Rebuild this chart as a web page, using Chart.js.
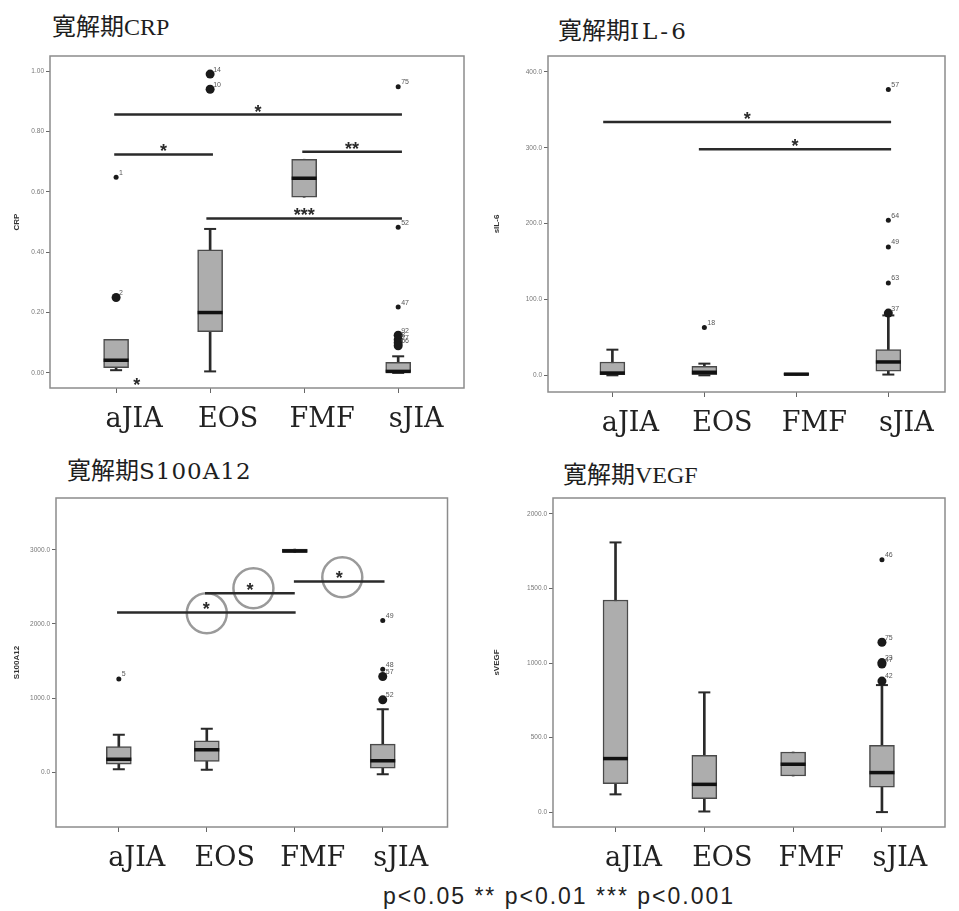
<!DOCTYPE html>
<html>
<head>
<meta charset="utf-8">
<script src="https://cdn.jsdelivr.net/npm/chart.js@4.4.0/dist/chart.umd.min.js"></script>
<style>
  body { margin: 0; background: #fff; width: 959px; height: 911px; overflow: hidden; position: relative; }
  .panel { position: absolute; }
  .title { position: absolute; font-family: "Liberation Serif", "Noto Sans CJK JP", serif; font-size: 24px; color: #1e1e1e; white-space: nowrap; line-height: 1; }
  .wide { font-family: "DejaVu Serif", serif; font-size: 23px; letter-spacing: 1px; }
  #foot { position: absolute; left: 383px; top: 885px; font-family: "Liberation Sans", Arial, sans-serif; font-size: 23px; letter-spacing: 2px; color: #222; white-space: nowrap; line-height: 1; }
</style>
</head>
<body>
<div class="title" style="left:52px;top:15px">寛解期CRP</div>
<div class="title" style="left:558px;top:19px">寛解期<span class="wide" style="letter-spacing:3px">IL-6</span></div>
<div class="title" style="left:67px;top:459px">寛解期<span class="wide">S100A12</span></div>
<div class="title" style="left:563px;top:463px">寛解期VEGF</div>

<div class="panel" style="left:0;top:40px"><canvas id="crp" width="480" height="403"></canvas></div>
<div class="panel" style="left:480px;top:40px"><canvas id="il6" width="481" height="407"></canvas></div>
<div class="panel" style="left:0;top:470px"><canvas id="s100" width="470" height="412"></canvas></div>
<div class="panel" style="left:480px;top:470px"><canvas id="vegf" width="481" height="412"></canvas></div>

<div id="foot">p&lt;0.05 ** p&lt;0.01 *** p&lt;0.001</div>

<script>
const groups = ["aJIA", "EOS", "FMF", "sJIA"];
const groupX = [1, 2, 3, 4];

// CRP
const crpLow  = [0.009, 0.005, 0.582, 0.000];
const crpQ1   = [0.017, 0.137, 0.582, 0.002];
const crpMed  = [0.042, 0.200, 0.645, 0.005];
const crpQ3   = [0.111, 0.408, 0.708, 0.035];
const crpHigh = [0.111, 0.477, 0.708, 0.055];
const crpOut  = [[1, 0.25, "2"], [2, 0.99, "14"], [2, 0.94, "10"], [4, 0.125, "92"], [4, 0.11, "8"], [4, 0.10, "27"], [4, 0.09, "66"]];
const crpExt  = [[1, 0.648, "1"], [4, 0.948, "75"], [4, 0.483, "52"], [4, 0.218, "47"]];
const crpSig  = [[0.98, 4.04, 0.856, "*"], [0.98, 2.03, 0.724, "*"], [2.98, 4.04, 0.733, "**"], [1.96, 4.04, 0.512, "***"]];
const crpMarks = [[1.22, -0.038, "*"]];
const crpTicks = [0, 0.2, 0.4, 0.6, 0.8, 1.0];

// IL-6
const il6Low  = [0, 0, 0.5, 1];
const il6Q1   = [1, 1, 0.5, 5.3];
const il6Med  = [3, 4, 1.5, 17.6];
const il6Q3   = [17.6, 11.9, 2.5, 33.8];
const il6High = [33.8, 15.4, 2.5, 79];
const il6Out  = [[4, 82, "37"]];
const il6Ext  = [[2, 62.9, "18"], [4, 376.7, "57"], [4, 204.4, "64"], [4, 169.2, "49"], [4, 121.8, "63"]];
const il6Sig  = [[0.9, 4.03, 334, "*"], [1.94, 4.03, 298, "*"]];
const il6Ticks = [0, 100, 200, 300, 400];

// S100A12
const s100Low  = [40, 31, 2965, -27];
const s100Q1   = [108, 144, 2965, 54];
const s100Med  = [175, 301, 2985, 153];
const s100Q3   = [346, 423, 3010, 378];
const s100High = [504, 585, 3010, 850];
const s100Out  = [[4, 976, "52"], [4, 1291, "57"]];
const s100Ext  = [[1, 1259, "5"], [4, 1390, "48"], [4, 2047, "49"]];
const s100Sig  = [[0.98, 3.01, 2155, "*"], [1.98, 3.0, 2415, "*"], [2.99, 4.02, 2573, "*"]];
const s100Rings = [[2.0, 2146], [2.53, 2483], [3.54, 2631]];
const s100Ticks = [0, 1000, 2000, 3000];

// VEGF
const vegfLow  = [119, 4, 242, 0];
const vegfQ1   = [191, 90, 242, 168];
const vegfMed  = [359, 186, 321, 265];
const vegfQ3   = [1423, 381, 403, 448];
const vegfHigh = [1809, 803, 403, 852];
const vegfOut  = [[4, 879, "42"], [4, 1003, "23"], [4, 993, "47"], [4, 1139, "75"]];
const vegfExt  = [[4, 1692, "46"]];
const vegfTicks = [0, 500, 1000, 1500, 2000];

const ink = "#2a2a2a";

const annotate = {
  id: "annotate",
  beforeDatasetsDraw(chart) {
    const a = chart.chartArea, ctx = chart.ctx;
    ctx.save();
    ctx.strokeStyle = "#8c8c8c";
    ctx.lineWidth = 1.5;
    ctx.strokeRect(a.left, a.top, a.right - a.left, a.bottom - a.top);
    ctx.restore();
  },
  afterDatasetsDraw(chart, args, opts) {
    const ctx = chart.ctx, xs = chart.scales.x, ys = chart.scales.y;
    ctx.save();
    ctx.font = "7px 'Liberation Sans'";
    ctx.fillStyle = "#555";
    ctx.textAlign = "left";
    ctx.textBaseline = "bottom";
    chart.data.datasets.forEach((ds, i) => {
      if (!ds.ids) return;
      chart.getDatasetMeta(i).data.forEach((pt, j) => ctx.fillText(ds.ids[j], pt.x + 3, pt.y - 1));
    });
    ctx.font = "bold 18px 'Liberation Sans'";
    ctx.fillStyle = ink;
    ctx.textAlign = "center";
    ctx.textBaseline = "middle";
    (opts.sig || []).forEach(([a, b, v, t]) =>
      ctx.fillText(t, xs.getPixelForValue((a + b) / 2), ys.getPixelForValue(v) - 2));
    (opts.marks || []).forEach(([x, v, t]) =>
      ctx.fillText(t, xs.getPixelForValue(x), ys.getPixelForValue(v) + 2));
    ctx.restore();
  }
};

function boxChart(id, s) {
  const pts = arr => arr.map((v, i) => ({ x: groupX[i], y: v }));
  const datasets = [];

  datasets.push({
    type: "bar", order: 5, grouped: false, barThickness: 2,
    data: groupX.map((x, i) => ({ x, y: [s.low[i], s.high[i]] })),
    backgroundColor: ink, borderWidth: 0
  });
  datasets.push({
    type: "bar", order: 4, grouped: false, barThickness: 25,
    data: groupX.map((x, i) => ({ x, y: [s.q1[i], s.q3[i]] })),
    backgroundColor: "#adadad", borderColor: "#4a4a4a", borderWidth: 1.5, borderSkipped: false
  });
  const caps = [];
  groupX.forEach((x, i) => {
    if (s.low[i] < s.q1[i]) caps.push({ x, y: s.low[i] });
    if (s.high[i] > s.q3[i]) caps.push({ x, y: s.high[i] });
  });
  datasets.push({
    type: "line", order: 3, showLine: false, data: caps,
    pointStyle: "line", pointRadius: 6, pointBorderWidth: 2, pointBorderColor: ink
  });
  datasets.push({
    type: "line", order: 2, showLine: false, data: pts(s.med),
    pointStyle: "line", pointRadius: 12.5, pointBorderWidth: 3.5, pointBorderColor: "#111"
  });
  datasets.push({
    type: "line", order: 1, showLine: false,
    data: s.out.map(o => ({ x: o[0], y: o[1] })), ids: s.out.map(o => o[2]),
    pointStyle: "circle", pointRadius: 4.5, pointBackgroundColor: "#1a1a1a", pointBorderWidth: 0
  });
  datasets.push({
    type: "line", order: 1, showLine: false,
    data: s.ext.map(o => ({ x: o[0], y: o[1] })), ids: s.ext.map(o => o[2]),
    pointStyle: "circle", pointRadius: 2.5, pointBackgroundColor: "#1a1a1a", pointBorderWidth: 0
  });
  (s.sig || []).forEach(([a, b, v]) => datasets.push({
    type: "line", order: 0, data: [{ x: a, y: v }, { x: b, y: v }],
    borderColor: ink, borderWidth: 2.5, pointRadius: 0
  }));
  if (s.rings) datasets.push({
    type: "line", order: 0, showLine: false,
    data: s.rings.map(r => ({ x: r[0], y: r[1] })),
    pointStyle: "circle", pointRadius: 20, pointBackgroundColor: "rgba(0,0,0,0)",
    pointBorderColor: "#9a9a9a", pointBorderWidth: 2.5
  });

  new Chart(document.getElementById(id), {
    type: "scatter",
    data: { datasets },
    plugins: [annotate],
    options: {
      responsive: false,
      animation: false,
      events: [],
      layout: { padding: s.pad },
      plugins: {
        legend: { display: false },
        tooltip: { enabled: false },
        annotate: { sig: s.sig, marks: s.marks }
      },
      scales: {
        x: {
          type: "linear", min: s.xMin, max: s.xMax, offset: false,
          afterBuildTicks: sc => { sc.ticks = groupX.map(v => ({ value: v })); },
          afterFit: sc => { sc.height = 55; },
          ticks: {
            callback: (v, i) => groups[i],
            font: { family: "DejaVu Serif", size: 27 }, color: "#222",
            padding: 11, labelOffset: 18, maxRotation: 0, autoSkip: false
          },
          grid: { drawOnChartArea: false, offset: false, tickLength: 5, color: "#666" },
          border: { display: false }
        },
        y: {
          type: "linear", min: s.yMin, max: s.yMax,
          afterBuildTicks: sc => { sc.ticks = s.ticks.map(v => ({ value: v })); },
          afterFit: sc => { sc.width = s.yWidth; },
          ticks: {
            callback: v => v.toFixed(s.dec),
            font: { family: "Liberation Sans", size: 6.5 }, color: "#777", padding: 2
          },
          grid: { drawOnChartArea: false, tickLength: 4, color: "#666" },
          border: { display: false },
          title: {
            display: true, text: s.yTitle, color: "#333",
            font: { family: "Liberation Sans", size: 8, weight: "bold" }, padding: { top: 12, bottom: 0 }
          }
        }
      }
    }
  });
}

boxChart("crp", {
  low: crpLow, q1: crpQ1, med: crpMed, q3: crpQ3, high: crpHigh,
  out: crpOut, ext: crpExt, sig: crpSig, marks: crpMarks, ticks: crpTicks,
  yMin: -0.05, yMax: 1.05, dec: 2, yTitle: "CRP", xMin: 0.297, xMax: 4.70,
  yWidth: 50, pad: { top: 12, right: 10, left: 0, bottom: 0 }
});
boxChart("il6", {
  low: il6Low, q1: il6Q1, med: il6Med, q3: il6Q3, high: il6High,
  out: il6Out, ext: il6Ext, sig: il6Sig, ticks: il6Ticks,
  yMin: -22, yMax: 421, dec: 1, yTitle: "sIL-6", xMin: 0.3, xMax: 4.616,
  yWidth: 68, pad: { top: 16, right: 0, left: 0, bottom: 0 }
});
boxChart("s100", {
  low: s100Low, q1: s100Q1, med: s100Med, q3: s100Q3, high: s100High,
  out: s100Out, ext: s100Ext, sig: s100Sig, rings: s100Rings, ticks: s100Ticks,
  yMin: -740, yMax: 3700, dec: 1, yTitle: "S100A12", xMin: 0.286, xMax: 4.736,
  yWidth: 56, pad: { top: 28, right: 9, left: 0, bottom: 0 }
});
boxChart("vegf", {
  low: vegfLow, q1: vegfQ1, med: vegfMed, q3: vegfQ3, high: vegfHigh,
  out: vegfOut, ext: vegfExt, ticks: vegfTicks,
  yMin: -100, yMax: 2107, dec: 1, yTitle: "sVEGF", xMin: 0.296, xMax: 4.71,
  yWidth: 73, pad: { top: 28, right: 0, left: 0, bottom: 0 }
});
</script>
</body>
</html>
